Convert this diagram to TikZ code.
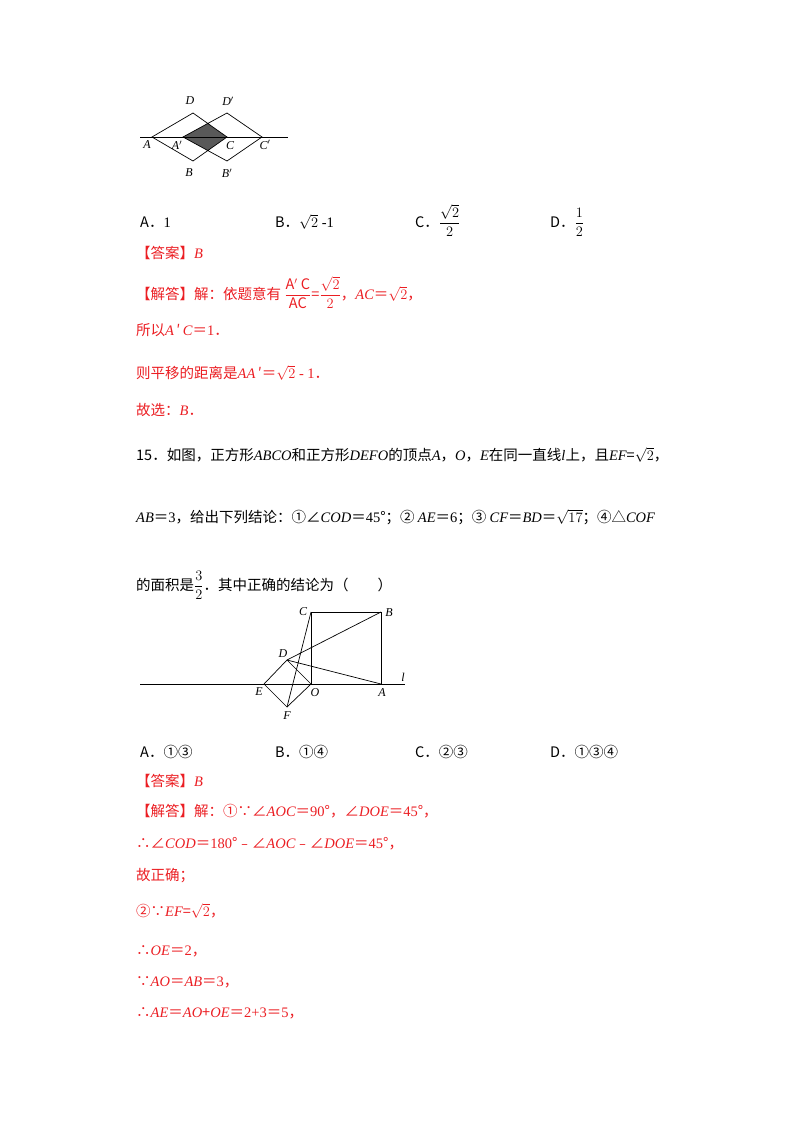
\documentclass[tikz,border=0pt]{standalone}
\usepackage{amsmath}
\usepackage{fontspec}
\setmainfont{Noto Sans CJK SC}
\newfontfamily\lib{Liberation Serif}
\newcommand{\li}[1]{{\lib\itshape #1}}
\newcommand{\lr}[1]{{\lib #1}}
\usetikzlibrary{calc}
\definecolor{ans}{RGB}{235,30,35}
\begin{document}
\begin{tikzpicture}[x=1pt,y=-1pt,
  tx/.style={anchor=base west,inner sep=0pt,font=\fontsize{14.5}{17}\selectfont},
  rt/.style={tx,text=ans},
  lab/.style={inner sep=1pt,font=\fontsize{12}{13}\lib\itshape},
  ln/.style={line width=0.7pt}]
\useasboundingbox (0,0) rectangle (800,1132);
% figure 1
\coordinate (A) at (152,137); \coordinate (D) at (193,113); \coordinate (C) at (227,137); \coordinate (B) at (193,161);
\coordinate (A1) at (183,137); \coordinate (D1) at (227,113); \coordinate (C1) at (262,137); \coordinate (B1) at (227,161);
\coordinate (P) at (intersection of D--C and A1--D1);
\coordinate (Q) at (intersection of B--C and A1--B1);
\fill[black!65] (A1)--(P)--(C)--(Q)--cycle;
\draw[ln] (140,137) coordinate (l0) -- (288,137) coordinate (l1);
\draw[ln] (A)--(D)--(C)--(B)--cycle (A1)--(D1)--(C1)--(B1)--cycle;
\node[lab] at (190,101) {D}; \node[lab] at (228,101) {D$'$};
\node[lab] at (147,145) {A}; \node[lab] at (177,145) {A$'$};
\node[lab] at (230,146) {C}; \node[lab] at (265,145) {C$'$};
\node[lab] at (189,173) {B}; \node[lab] at (227,173) {B$'$};
% options
\node[tx] at (140,227) {A．\lr{1}};
\node[tx] at (275,227) {B．$\sqrt{2}$\lr{ -1}};
\node[tx] at (415,227) {C．$\dfrac{\sqrt{2}}{2}$};
\node[tx] at (550,227) {D．$\dfrac{1}{2}$};
\node[rt] at (136,258) {【答案】\li{B}};
\node[rt] at (136,299) {【解答】解：依题意有 $\dfrac{\mathrm{A'\ C}}{\mathrm{AC}}$=$\dfrac{\sqrt2}{2}$，\li{AC}＝$\sqrt2$，};
\node[rt] at (136,335) {所以\li{A}\,′\,\li{C}＝\lr{1}．};
\node[rt] at (136,378) {则平移的距离是\li{AA}\,′＝$\sqrt2$\lr{ - 1}．};
\node[rt] at (136,415) {故选：\li{B}．};
\node[tx] at (136,460) {15．如图，正方形\li{ABCO}和正方形\li{DEFO}的顶点\li{A}，\li{O}，\li{E}在同一直线\li{l}上，且\li{EF}=$\sqrt2$，};
\node[tx] at (136,522) {\li{AB}＝\lr{3}，给出下列结论：①∠\li{COD}＝\lr{45}°；② \li{AE}＝\lr{6}；③ \li{CF}＝\li{BD}＝$\sqrt{17}$；④△\li{COF}};
\node[tx] at (136,590) {的面积是$\dfrac{3}{2}$．其中正确的结论为（　　）};
% figure 2
\coordinate (C2) at (311,612); \coordinate (B2) at (381,612); \coordinate (A2) at (381,684); \coordinate (O2) at (311,684);
\coordinate (E2) at (264,684); \coordinate (D2) at (287,660); \coordinate (F2) at (287,707);
\draw[ln] (140,684) coordinate (m0) -- (405,684) coordinate (m1);
\draw[ln] (C2)--(B2)--(A2) (C2)--(O2);
\draw[ln] (D2)--(E2)--(F2)--(O2)--cycle;
\draw[ln] (C2)--(F2) (D2)--(B2) (D2)--(A2);
\node[lab] at (303,612) {C}; \node[lab] at (389,613) {B};
\node[lab] at (283,654) {D}; \node[lab] at (259,692) {E};
\node[lab] at (315,693) {O}; \node[lab] at (382,693) {A};
\node[lab] at (287,716) {F}; \node[lab] at (403,677) {l};
\node[tx] at (140,757) {A．①③};
\node[tx] at (275,757) {B．①④};
\node[tx] at (415,757) {C．②③};
\node[tx] at (550,757) {D．①③④};
\node[rt] at (136,786) {【答案】\li{B}};
\node[rt] at (136,816) {【解答】解：①∵∠\li{AOC}＝\lr{90}°，∠\li{DOE}＝\lr{45}°，};
\node[rt] at (136,848) {∴∠\li{COD}＝\lr{180}°﹣∠\li{AOC}﹣∠\li{DOE}＝\lr{45}°，};
\node[rt] at (136,880) {故正确；};
\node[rt] at (136,916) {②∵\li{EF}=$\sqrt2$，};
\node[rt] at (136,955) {∴\li{OE}＝\lr{2}，};
\node[rt] at (136,986) {∵\li{AO}＝\li{AB}＝\lr{3}，};
\node[rt] at (136,1017) {∴\li{AE}＝\li{AO}+\li{OE}＝\lr{2+3}＝\lr{5}，};
\end{tikzpicture}
\end{document}
